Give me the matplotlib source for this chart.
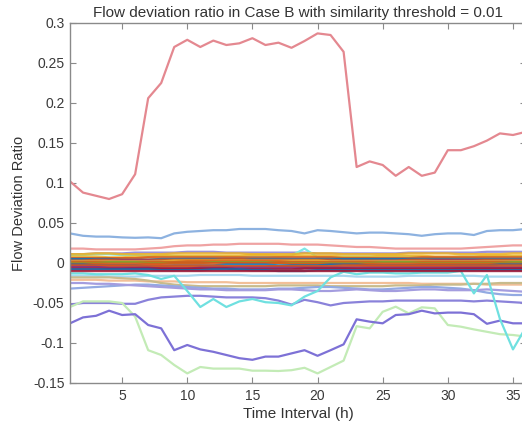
import matplotlib.pyplot as plt
import numpy as np

plt.rcParams['font.family'] = ['Liberation Sans', 'DejaVu Sans']

hours = np.arange(1, 37)

# outer (clearly visible) series
red_top = [0.102, 0.088, 0.084, 0.080, 0.086, 0.111, 0.206, 0.225, 0.270, 0.279, 0.270, 0.278,
           0.2725, 0.2746, 0.281, 0.2725, 0.2754, 0.269, 0.2775, 0.287, 0.285, 0.264, 0.120, 0.127,
           0.1225, 0.109, 0.120, 0.109, 0.113, 0.141, 0.141, 0.146, 0.153, 0.162, 0.160, 0.164]
blue_top = [0.037, 0.034, 0.033, 0.033, 0.032, 0.0315, 0.032, 0.031, 0.037, 0.039, 0.040, 0.041,
            0.041, 0.0425, 0.0425, 0.0425, 0.041, 0.040, 0.037, 0.041, 0.040, 0.0385, 0.037, 0.038,
            0.038, 0.037, 0.036, 0.034, 0.036, 0.037, 0.037, 0.035, 0.040, 0.041, 0.041, 0.0425]
pink_top = [0.018, 0.018, 0.017, 0.017, 0.017, 0.017, 0.018, 0.019, 0.021, 0.022, 0.022, 0.023,
            0.023, 0.024, 0.024, 0.024, 0.024, 0.023, 0.023, 0.023, 0.022, 0.021, 0.020, 0.020,
            0.019, 0.018, 0.018, 0.018, 0.018, 0.018, 0.018, 0.019, 0.020, 0.021, 0.022, 0.022]
purple_top = [0.011, 0.011, 0.012, 0.012, 0.012, 0.013, 0.013, 0.013, 0.013, 0.014, 0.014, 0.014,
              0.013, 0.013, 0.013, 0.013, 0.013, 0.013, 0.013, 0.012, 0.012, 0.012, 0.012, 0.012,
              0.012, 0.012, 0.013, 0.013, 0.013, 0.013, 0.013, 0.013, 0.014, 0.014, 0.014, 0.014]
cyan_spike = [0.010, 0.010, 0.011, 0.011, 0.010, 0.010, 0.009, 0.009, 0.009, 0.008, 0.008, 0.008,
              0.008, 0.008, 0.008, 0.008, 0.008, 0.009, 0.018, 0.007, 0.007, 0.008, 0.008, 0.008,
              0.008, 0.008, 0.008, 0.007, 0.007, 0.007, 0.008, 0.008, 0.008, 0.008, 0.008, 0.008]
cyan_dive = [-0.013, -0.013, -0.014, -0.014, -0.014, -0.013, -0.015, -0.020, -0.016, -0.035, -0.055, -0.045,
             -0.055, -0.048, -0.045, -0.049, -0.050, -0.053, -0.042, -0.035, -0.018, -0.011, -0.014, -0.012,
             -0.012, -0.013, -0.013, -0.012, -0.012, -0.012, -0.010, -0.038, -0.015, -0.070, -0.108, -0.080]
lightblue_low = [-0.016, -0.016, -0.016, -0.017, -0.017, -0.017, -0.016, -0.016, -0.016, -0.016, -0.015, -0.015,
                 -0.015, -0.015, -0.016, -0.016, -0.016, -0.016, -0.016, -0.016, -0.016, -0.016, -0.017, -0.017,
                 -0.017, -0.017, -0.016, -0.016, -0.016, -0.016, -0.016, -0.016, -0.017, -0.017, -0.017, -0.017]
orange_low = [-0.021, -0.021, -0.021, -0.022, -0.022, -0.022, -0.023, -0.023, -0.023, -0.024, -0.024, -0.024,
              -0.024, -0.025, -0.025, -0.025, -0.025, -0.025, -0.025, -0.025, -0.025, -0.025, -0.025, -0.025,
              -0.025, -0.025, -0.025, -0.026, -0.026, -0.026, -0.026, -0.026, -0.027, -0.027, -0.027, -0.027]
olive_low = [-0.018, -0.018, -0.018, -0.018, -0.019, -0.020, -0.022, -0.025, -0.027, -0.028, -0.029, -0.029,
             -0.029, -0.029, -0.029, -0.029, -0.028, -0.028, -0.028, -0.028, -0.029, -0.029, -0.029, -0.029,
             -0.029, -0.028, -0.028, -0.028, -0.027, -0.027, -0.027, -0.026, -0.026, -0.025, -0.025, -0.025]
blue_low = [-0.032, -0.031, -0.030, -0.029, -0.028, -0.027, -0.027, -0.028, -0.029, -0.030, -0.031, -0.032,
            -0.032, -0.033, -0.033, -0.033, -0.032, -0.032, -0.031, -0.030, -0.030, -0.031, -0.032, -0.033,
            -0.033, -0.032, -0.031, -0.030, -0.030, -0.031, -0.032, -0.034, -0.037, -0.039, -0.040, -0.040]
purple_mid = [-0.025, -0.025, -0.026, -0.026, -0.027, -0.028, -0.029, -0.030, -0.031, -0.032, -0.033, -0.033,
              -0.034, -0.034, -0.034, -0.034, -0.033, -0.033, -0.034, -0.035, -0.035, -0.034, -0.033, -0.034,
              -0.035, -0.035, -0.034, -0.033, -0.033, -0.034, -0.034, -0.034, -0.033, -0.034, -0.035, -0.036]
purple_low = [-0.052, -0.050, -0.050, -0.050, -0.051, -0.051, -0.046, -0.043, -0.042, -0.041, -0.041, -0.042,
              -0.043, -0.043, -0.043, -0.044, -0.047, -0.052, -0.046, -0.049, -0.053, -0.050, -0.049, -0.048,
              -0.048, -0.047, -0.047, -0.047, -0.047, -0.047, -0.047, -0.048, -0.047, -0.048, -0.049, -0.050]
green_low = [-0.055, -0.048, -0.048, -0.048, -0.050, -0.067, -0.109, -0.115, -0.1275, -0.138, -0.130, -0.132,
             -0.132, -0.132, -0.1346, -0.1346, -0.135, -0.134, -0.131, -0.138, -0.130, -0.122, -0.079, -0.0817,
             -0.061, -0.0546, -0.063, -0.0554, -0.0567, -0.0775, -0.0796, -0.083, -0.086, -0.089, -0.090, -0.092]
purple_dip = [-0.0754, -0.068, -0.066, -0.0596, -0.065, -0.064, -0.0775, -0.0817, -0.109, -0.1025, -0.108, -0.111,
              -0.115, -0.119, -0.121, -0.117, -0.117, -0.113, -0.109, -0.116, -0.109, -0.1017, -0.0704, -0.0733,
              -0.0754, -0.065, -0.064, -0.0596, -0.063, -0.062, -0.062, -0.064, -0.076, -0.072, -0.0754, -0.0754]

outer = [
    (red_top, '#e48890'), (blue_top, '#8db2e0'), (pink_top, '#efa3a3'), (purple_top, '#9c92d8'),
    (lightblue_low, '#a8d8f0'), (orange_low, '#f2bf98'), (olive_low, '#c8bb8c'), (blue_low, '#93aae2'),
    (purple_mid, '#a49ddf'), (purple_low, '#8a82da'), (green_low, '#c3ebb6'), (purple_dip, '#7d71d6'),
    (cyan_dive, '#6fe0e0'), (cyan_spike, '#7fe6e6'),
]

# dense band around zero, values in thousandths
band_yellow_a = [11, 11, 12, 12, 11, 11, 11, 11, 12, 12, 12, 12, 12, 12, 11, 11, 11, 11, 12, 12, 12, 11, 11, 11,
                 11, 11, 12, 12, 12, 12, 11, 11, 11, 11, 12, 12]
band_yellow_b = [8, 8, 8, 7, 7, 8, 8, 9, 9, 9, 9, 9, 9, 9, 10, 10, 9, 9, 9, 9, 9, 8, 8, 8,
                 9, 9, 9, 9, 8, 8, 8, 8, 9, 9, 9, 9]
band_orange_a = [6, 6, 6, 6, 6, 6, 7, 7, 7, 7, 7, 7, 7, 7, 7, 7, 7, 7, 7, 7, 7, 6, 6, 6,
                 6, 6, 6, 7, 7, 7, 7, 7, 7, 7, 7, 7]
band_blue_a = [5, 5, 5, 5, 4, 4, 4, 5, 5, 5, 5, 5, 5, 5, 5, 5, 5, 5, 5, 5, 5, 5, 5, 5,
               5, 5, 5, 5, 5, 5, 5, 5, 5, 5, 5, 5]
band_orange_b = [3, 3, 4, 4, 4, 4, 4, 4, 4, 4, 4, 4, 5, 5, 4, 4, 4, 4, 4, 4, 4, 3, 3, 3,
                 3, 3, 4, 4, 4, 4, 4, 4, 4, 4, 4, 4]
band_purple_a = [2, 2, 2, 2, 3, 3, 3, 2, 2, 2, 2, 2, 2, 2, 3, 3, 3, 3, 2, 2, 2, 2, 2, 2,
                 2, 2, 2, 2, 3, 3, 3, 3, 2, 2, 2, 2]
band_yellow_c = [2, 2, 2, 2, 2, 2, 2, 2, 3, 3, 3, 3, 3, 3, 3, 3, 3, 3, 3, 3, 2, 2, 2, 2,
                 2, 2, 2, 2, 2, 2, 2, 2, 2, 2, 2, 2]
band_orange_c = [1, 1, 1, 1, 1, 1, 1, 1, 1, 2, 2, 2, 2, 2, 2, 2, 2, 1, 1, 1, 1, 1, 1, 1,
                 1, 1, 1, 1, 1, 1, 1, 1, 1, 1, 1, 1]
band_green_a = [0, 0, 0, 1, 1, 1, 0, 0, 0, 0, 0, 1, 1, 1, 1, 1, 0, 0, 0, 0, 0, 0, 0, 0,
                1, 1, 1, 0, 0, 0, 0, 0, 0, 0, 1, 1]
band_orange_d = [-1, -1, -1, -1, -1, -1, -1, -1, 0, 0, 0, 0, 0, 0, 0, 0, 0, -1, -1, -1, -1, -1, -1, -1,
                 -1, -1, -1, -1, -1, -1, -1, -1, -1, -1, -1, -1]
band_blue_b = [-2, -2, -3, -3, -3, -3, -4, -4, -3, -3, -3, -3, -2, -2, -2, -2, -3, -3, -3, -3, -2, -2, -2, -3,
               -3, -3, -3, -3, -3, -3, -3, -3, -3, -2, -2, -2]
band_orange_e = [-3, -3, -3, -3, -3, -3, -3, -3, -3, -3, -3, -3, -4, -4, -4, -4, -4, -4, -4, -4, -4, -3, -3, -3,
                 -3, -3, -3, -3, -3, -3, -3, -3, -3, -3, -3, -3]
band_orange_f = [-4, -4, -4, -4, -4, -5, -5, -5, -5, -5, -5, -5, -5, -5, -5, -5, -5, -5, -5, -5, -5, -5, -4, -4,
                 -4, -4, -4, -4, -4, -4, -5, -5, -5, -5, -5, -5]
band_purple_b = [-5, -5, -5, -6, -6, -6, -6, -7, -7, -7, -6, -6, -6, -6, -6, -6, -6, -6, -6, -6, -6, -6, -6, -6,
                 -6, -6, -6, -6, -6, -6, -6, -6, -6, -6, -6, -6]
band_red_a = [-7, -7, -7, -7, -7, -7, -7, -7, -7, -7, -7, -7, -7, -8, -8, -8, -8, -8, -7, -7, -7, -7, -7, -7,
              -7, -7, -7, -7, -7, -7, -7, -7, -7, -7, -7, -7]
band_blue_c = [-8, -8, -8, -8, -8, -8, -8, -9, -9, -9, -9, -8, -8, -8, -9, -9, -10, -10, -10, -9, -9, -9, -9, -9,
               -9, -9, -9, -9, -9, -9, -9, -9, -9, -9, -9, -9]
band_red_b = [-10, -10, -10, -10, -10, -10, -10, -10, -10, -10, -10, -10, -10, -10, -10, -10, -10, -10, -10, -10,
              -10, -10, -10, -10, -10, -10, -10, -10, -10, -10, -10, -10, -10, -10, -10, -10]

band = [
    (band_yellow_a, '#EDB120'), (band_yellow_b, '#EDB120'), (band_orange_a, '#D95319'),
    (band_blue_a, '#0072BD'), (band_orange_b, '#D95319'), (band_purple_a, '#7E2F8E'),
    (band_yellow_c, '#EDB120'), (band_orange_c, '#D95319'), (band_green_a, '#77AC30'),
    (band_orange_d, '#D95319'), (band_blue_b, '#0072BD'), (band_orange_e, '#D95319'),
    (band_orange_f, '#D95319'), (band_purple_b, '#7E2F8E'), (band_red_a, '#A2142F'),
    (band_blue_c, '#0072BD'), (band_red_b, '#A2142F'),
]

fig = plt.figure(figsize=(5.22, 4.33), dpi=100)
ax = fig.add_axes([70 / 522, 50 / 433, 456 / 522, 360 / 433])

for vals, col in outer:
    ax.plot(hours, vals, color=col, lw=1.6)
for vals, col in band:
    ax.plot(hours, np.array(vals) / 1000, color=col, lw=1.7, alpha=0.85)

ax.set_xlim(1, 36)
ax.set_ylim(-0.15, 0.3)
ax.set_xticks([5, 10, 15, 20, 25, 30, 35])
ax.set_yticks([-0.15, -0.1, -0.05, 0, 0.05, 0.1, 0.15, 0.2, 0.25, 0.3])
ax.set_yticklabels(['-0.15', '-0.1', '-0.05', '0', '0.05', '0.1', '0.15', '0.2', '0.25', '0.3'])
ax.tick_params(direction='in', length=4, top=True, right=True, labelsize=10,
               colors='#8a8a8a', labelcolor='#3a3a3a', pad=4)
for s in ax.spines.values():
    s.set_color('#8a8a8a')
    s.set_linewidth(1.0)

ax.set_title('Flow deviation ratio in Case B with similarity threshold = 0.01',
             fontsize=11, color='#333333', pad=4)
ax.set_xlabel('Time Interval (h)', fontsize=11, color='#333333', labelpad=3)
ax.set_ylabel('Flow Deviation Ratio', fontsize=10.5, color='#333333', labelpad=5)

fig.savefig('out.png', dpi=100)
